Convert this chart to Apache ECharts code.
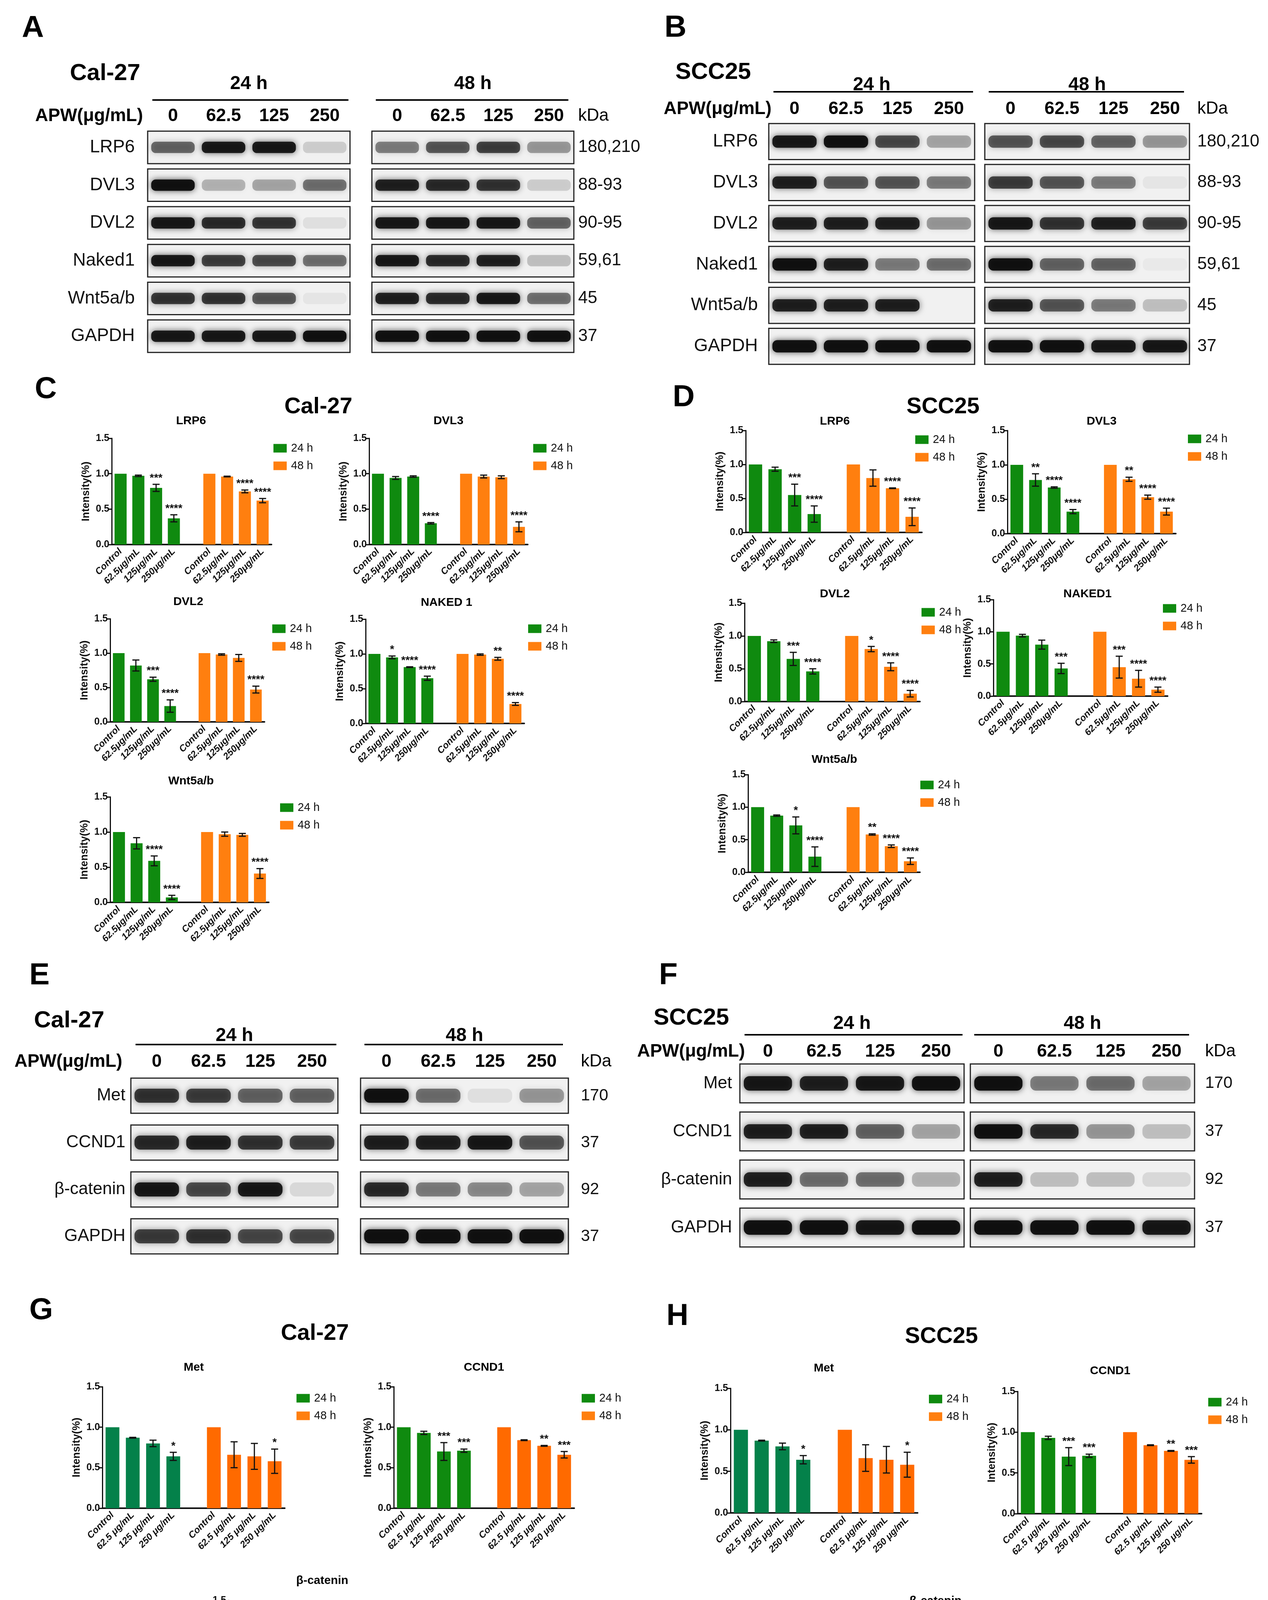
<!DOCTYPE html>
<html>
<head>
<meta charset="utf-8">
<script src="https://cdn.jsdelivr.net/npm/echarts@6/dist/echarts.min.js"></script>
<style>
html,body{margin:0;padding:0;background:#fff;}
#main{width:3246px;height:4637px;}
</style>
</head>
<body>
<div id="main"></div>
<script>
// ---------- blot data (band darkness 0..1, lanes: 24h 0/62.5/125/250, 48h 0/62.5/125/250) ----------
var blotA_rows = ['LRP6','DVL3','DVL2','Naked1','Wnt5a/b','GAPDH'];
var blotA_kda = ['180,210','88-93','90-95','59,61','45','37'];
var blotA_bands = [
    [0.55,0.9,0.9,0.15, 0.45,0.6,0.7,0.35],
    [0.95,0.25,0.3,0.5, 0.85,0.8,0.75,0.15],
    [0.9,0.8,0.75,0.08, 0.9,0.9,0.9,0.55],
    [0.9,0.7,0.65,0.5, 0.9,0.8,0.85,0.2],
    [0.75,0.75,0.6,0.05, 0.85,0.8,0.9,0.5],
    [0.9,0.9,0.9,0.95, 0.95,0.95,0.95,0.95]
];
var blotB_rows = ['LRP6','DVL3','DVL2','Naked1','Wnt5a/b','GAPDH'];
var blotB_kda = ['180,210','88-93','90-95','59,61','45','37'];
var blotB_bands = [
    [0.9,0.95,0.65,0.3, 0.6,0.65,0.55,0.35],
    [0.85,0.6,0.6,0.45, 0.7,0.6,0.45,0.05],
    [0.85,0.85,0.85,0.35, 0.9,0.75,0.85,0.7],
    [0.95,0.85,0.45,0.5, 0.95,0.55,0.55,0.03],
    [0.85,0.85,0.85,0.0, 0.85,0.6,0.45,0.2],
    [0.95,0.95,0.95,0.95, 0.95,0.95,0.9,0.9]
];
var blotE_rows = ['Met','CCND1','β-catenin','GAPDH'];
var blotE_kda = ['170','37','92','37'];
var blotE_bands = [
    [0.75,0.7,0.55,0.55, 0.95,0.5,0.08,0.35],
    [0.8,0.85,0.75,0.7, 0.85,0.85,0.9,0.6],
    [0.9,0.65,0.9,0.1, 0.8,0.45,0.4,0.3],
    [0.7,0.75,0.65,0.65, 0.95,0.95,0.95,0.95]
];
var blotF_rows = ['Met','CCND1','β-catenin','GAPDH'];
var blotF_kda = ['170','37','92','37'];
var blotF_bands = [
    [0.9,0.85,0.9,0.95, 0.95,0.45,0.5,0.3],
    [0.85,0.85,0.55,0.3, 0.95,0.8,0.35,0.2],
    [0.85,0.5,0.5,0.25, 0.85,0.2,0.2,0.1],
    [0.95,0.95,0.9,0.95, 0.95,0.95,0.95,0.9]
];
var lane_doses = ['0','62.5','125','250'];

// ---------- bar chart data ----------
var x_labels = ['Control','62.5μg/mL','125μg/mL','250μg/mL'];
var x_labels_sp = ['Control','62.5 μg/mL','125 μg/mL','250 μg/mL'];
var x_labels_h = ['Control','62.5μg','125μg','250μg'];

var c_lrp6_24 = [1,0.97,0.8,0.37], c_lrp6_24_err = [0,0.01,0.05,0.05], c_lrp6_24_sig = ['','','***','****'];
var c_lrp6_48 = [1,0.96,0.75,0.62], c_lrp6_48_err = [0,0.005,0.02,0.03], c_lrp6_48_sig = ['','','****','****'];
var c_dvl3_24 = [1,0.94,0.96,0.3], c_dvl3_24_err = [0,0.02,0.01,0.01], c_dvl3_24_sig = ['','','','****'];
var c_dvl3_48 = [1,0.96,0.95,0.25], c_dvl3_48_err = [0,0.02,0.02,0.07], c_dvl3_48_sig = ['','','','****'];
var c_dvl2_24 = [1,0.82,0.62,0.23], c_dvl2_24_err = [0,0.08,0.03,0.09], c_dvl2_24_sig = ['','','***','****'];
var c_dvl2_48 = [1,0.98,0.93,0.47], c_dvl2_48_err = [0,0.01,0.05,0.05], c_dvl2_48_sig = ['','','','****'];
var c_nkd_24 = [1,0.95,0.81,0.65], c_nkd_24_err = [0,0.02,0.005,0.03], c_nkd_24_sig = ['','*','****','****'];
var c_nkd_48 = [1,0.99,0.93,0.28], c_nkd_48_err = [0,0.01,0.02,0.02], c_nkd_48_sig = ['','','**','****'];
var c_wnt_24 = [1,0.84,0.59,0.07], c_wnt_24_err = [0,0.08,0.07,0.03], c_wnt_24_sig = ['','','****','****'];
var c_wnt_48 = [1,0.97,0.96,0.41], c_wnt_48_err = [0,0.03,0.02,0.07], c_wnt_48_sig = ['','','','****'];

var d_lrp6_24 = [1,0.93,0.55,0.27], d_lrp6_24_err = [0,0.03,0.16,0.12], d_lrp6_24_sig = ['','','***','****'];
var d_lrp6_48 = [1,0.8,0.65,0.23], d_lrp6_48_err = [0,0.12,0.005,0.13], d_lrp6_48_sig = ['','','****','****'];
var d_dvl3_24 = [1,0.78,0.67,0.32], d_dvl3_24_err = [0,0.09,0.01,0.03], d_dvl3_24_sig = ['','**','****','****'];
var d_dvl3_48 = [1,0.79,0.53,0.32], d_dvl3_48_err = [0,0.03,0.03,0.05], d_dvl3_48_sig = ['','**','****','****'];
var d_dvl2_24 = [1,0.92,0.65,0.46], d_dvl2_24_err = [0,0.02,0.1,0.04], d_dvl2_24_sig = ['','','***','****'];
var d_dvl2_48 = [1,0.8,0.53,0.12], d_dvl2_48_err = [0,0.04,0.06,0.05], d_dvl2_48_sig = ['','*','****','****'];
var d_nkd_24 = [1,0.94,0.8,0.43], d_nkd_24_err = [0,0.02,0.07,0.08], d_nkd_24_sig = ['','','','***'];
var d_nkd_48 = [1,0.45,0.27,0.1], d_nkd_48_err = [0,0.17,0.13,0.04], d_nkd_48_sig = ['','***','****','****'];
var d_wnt_24 = [1,0.87,0.72,0.24], d_wnt_24_err = [0,0.01,0.13,0.15], d_wnt_24_sig = ['','','*','****'];
var d_wnt_48 = [1,0.58,0.4,0.17], d_wnt_48_err = [0,0.01,0.02,0.05], d_wnt_48_sig = ['','**','****','****'];

var g_met_24 = [1,0.87,0.8,0.64], g_met_24_err = [0,0.005,0.04,0.05], g_met_24_sig = ['','','','*'];
var g_met_48 = [1,0.66,0.64,0.58], g_met_48_err = [0,0.16,0.16,0.15], g_met_48_sig = ['','','','*'];
var g_ccnd1_24 = [1,0.93,0.7,0.71], g_ccnd1_24_err = [0,0.02,0.11,0.02], g_ccnd1_24_sig = ['','','***','***'];
var g_ccnd1_48 = [1,0.84,0.77,0.66], g_ccnd1_48_err = [0,0.005,0.005,0.04], g_ccnd1_48_sig = ['','','**','***'];
var g_bcat_24 = [1,0.56,0.9,0.14], g_bcat_24_err = [0,0.1,0.04,0.02], g_bcat_24_sig = ['','****','','****'];
var g_bcat_48 = [1,0.45,0.32,0.27], g_bcat_48_err = [0,0.06,0.05,0.05], g_bcat_48_sig = ['','****','****','****'];

var h_met_24 = [1,0.87,0.8,0.64], h_met_24_err = [0,0.005,0.04,0.05], h_met_24_sig = ['','','','*'];
var h_met_48 = [1,0.66,0.64,0.58], h_met_48_err = [0,0.16,0.16,0.15], h_met_48_sig = ['','','','*'];
var h_ccnd1_24 = [1,0.93,0.7,0.71], h_ccnd1_24_err = [0,0.02,0.11,0.02], h_ccnd1_24_sig = ['','','***','***'];
var h_ccnd1_48 = [1,0.84,0.77,0.66], h_ccnd1_48_err = [0,0.005,0.005,0.04], h_ccnd1_48_sig = ['','','**','***'];
var h_bcat_24 = [1,0.56,0.9,0.14], h_bcat_24_err = [0,0.1,0.04,0.02], h_bcat_24_sig = ['','****','ns','****'];
var h_bcat_48 = [1,0.32,0.45,0.27], h_bcat_48_err = [0,0.05,0.07,0.06], h_bcat_48_sig = ['','****','****','****'];

var y_ticks = [0, 0.5, 1.0, 1.5];

var FONT = 'Liberation Sans, Arial, sans-serif';
var GREEN = '#0f8a0f', ORANGE = '#ff7f0f', GREEN2 = '#04814a', ORANGE2 = '#ff6a00';

var chart = echarts.init(document.getElementById('main'), null, {renderer: 'canvas'});
var grids = [], xAxes = [], yAxes = [], series = [], legends = [], graphics = [];

function txt(x, y, s, size, weight, align, extra) {
    var o = {type: 'text', left: x, top: y, style: {text: s, x: 0, y: 0, fill: '#000',
        font: (weight || 'normal') + ' ' + size + 'px ' + FONT, textAlign: align || 'left', textVerticalAlign: 'middle'}};
    if (extra) for (var k in extra) o.style[k] = extra[k];
    return o;
}
function ctxt(x, y, s, size, weight) {
    return {type: 'text', x: x, y: y, style: {text: s, fill: '#000', font: (weight || 'normal') + ' ' + size + 'px ' + FONT,
        textAlign: 'center', textVerticalAlign: 'middle'}};
}
function ltxt(x, y, s, size, weight, align) {
    return {type: 'text', x: x, y: y, style: {text: s, fill: '#000', font: (weight || 'normal') + ' ' + size + 'px ' + FONT,
        textAlign: align || 'left', textVerticalAlign: 'middle'}};
}

// ---------- blots ----------
function addBlot(b) {
    var gi = grids.length;
    var laneW = b.leftW / 4;
    grids.push({left: b.left, top: b.top, width: b.width, height: b.height});
    xAxes.push({gridIndex: gi, type: 'value', min: 0, max: b.width, show: false});
    yAxes.push({gridIndex: gi, type: 'category', inverse: true, data: b.rows,
        axisLine: {show: false}, axisTick: {show: false}, splitLine: {show: false},
        axisLabel: {fontSize: b.fs, fontFamily: FONT, color: '#111', margin: b.lm}});
    yAxes.push({gridIndex: gi, type: 'category', inverse: true, position: 'right', data: b.kda,
        axisLine: {show: false}, axisTick: {show: false}, splitLine: {show: false},
        axisLabel: {fontSize: b.fs - 2, fontFamily: FONT, color: '#111', margin: b.km}});
    var yi = yAxes.length - 2;
    var frames = [], bands = [];
    b.rows.forEach(function (r, ri) {
        frames.push([0, ri]); frames.push([1, ri]);
        b.bands[ri].forEach(function (v, li) { bands.push([li, ri, v]); });
    });
    function sideX(side) { return side === 0 ? 0 : b.leftW + b.gap; }
    series.push({type: 'custom', xAxisIndex: xAxes.length - 1, yAxisIndex: yi, data: frames, silent: true,
        renderItem: function (params, api) {
            var side = api.value(0), row = api.value(1);
            var p = api.coord([sideX(side), row]);
            var h = api.size([0, 1])[1] * b.fh;
            var w = side === 0 ? b.leftW : b.width - b.leftW - b.gap;
            return {type: 'rect', shape: {x: p[0], y: p[1] - h / 2, width: w, height: h},
                style: {fill: '#f1f1f1', stroke: '#222', lineWidth: 3}};
        }});
    series.push({type: 'custom', xAxisIndex: xAxes.length - 1, yAxisIndex: yi, data: bands, silent: true,
        renderItem: function (params, api) {
            var lane = api.value(0), row = api.value(1), v = api.value(2);
            var side = lane < 4 ? 0 : 1;
            var cx = sideX(side) + ((lane % 4) + 0.5) * laneW;
            var p = api.coord([cx, row]);
            var h = api.size([0, 1])[1] * 0.3;
            var w = laneW * 0.86;
            var a = Math.max(0, Math.min(1, v));
            return {type: 'rect', shape: {x: p[0] - w / 2, y: p[1] - h / 2, width: w, height: h, r: h / 2.5},
                style: {fill: 'rgba(12,12,12,' + a + ')', shadowBlur: 16, shadowColor: 'rgba(12,12,12,' + (a * 0.8) + ')'}};
        }});
    // headers
    graphics.push(ltxt(b.letter[1], b.letter[2], b.letter[0], 78, 'bold', 'left'));
    graphics.push(ltxt(b.cell[1], b.cell[2], b.cell[0], 60, 'bold', 'left'));
    graphics.push(ctxt(b.left + b.leftW / 2, b.hY, '24 h', 48, 'bold'));
    graphics.push(ctxt(b.left + b.leftW + b.gap + (b.width - b.leftW - b.gap) / 2, b.hY, '48 h', 48, 'bold'));
    graphics.push({type: 'line', shape: {x1: b.left + 12, y1: b.uY, x2: b.left + b.leftW - 4, y2: b.uY}, style: {stroke: '#000', lineWidth: 4}});
    graphics.push({type: 'line', shape: {x1: b.left + b.leftW + b.gap + 10, y1: b.uY, x2: b.left + b.width - 14, y2: b.uY}, style: {stroke: '#000', lineWidth: 4}});
    graphics.push(ltxt(b.apwX, b.aY, 'APW(μg/mL)', 46, 'bold', 'left'));
    for (var i = 0; i < 8; i++) {
        var side = i < 4 ? 0 : 1;
        var cx = b.left + sideX(side) + ((i % 4) + 0.5) * laneW;
        graphics.push(ctxt(cx, b.aY, lane_doses[i % 4], 46, 'bold'));
    }
    graphics.push(ltxt(b.left + b.width + b.km, b.aY, 'kDa', 44, 'normal', 'left'));
}

addBlot({left: 378, top: 329, width: 1091, height: 580, leftW: 518, gap: 56, rows: blotA_rows, kda: blotA_kda, bands: blotA_bands,
    fs: 46, lm: 33, km: 11, fh: 0.86, letter: ['A', 56, 73], cell: ['Cal-27', 179, 188], hY: 215, uY: 256, aY: 297, apwX: 90});
addBlot({left: 1968, top: 310, width: 1077, height: 629, leftW: 527, gap: 26, rows: blotB_rows, kda: blotB_kda, bands: blotB_bands,
    fs: 46, lm: 28, km: 20, fh: 0.88, letter: ['B', 1701, 72], cell: ['SCC25', 1729, 185], hY: 218, uY: 235, aY: 279, apwX: 1699});
addBlot({left: 335, top: 2745, width: 1120, height: 480, leftW: 530, gap: 58, rows: blotE_rows, kda: blotE_kda, bands: blotE_bands,
    fs: 44, lm: 14, km: 32, fh: 0.75, letter: ['E', 75, 2498], cell: ['Cal-27', 87, 2613], hY: 2652, uY: 2674, aY: 2718, apwX: 37});
addBlot({left: 1894, top: 2712, width: 1164, height: 492, leftW: 574, gap: 16, rows: blotF_rows, kda: blotF_kda, bands: blotF_bands,
    fs: 44, lm: 20, km: 27, fh: 0.81, letter: ['F', 1687, 2498], cell: ['SCC25', 1673, 2606], hY: 2621, uY: 2649, aY: 2692, apwX: 1631});

// ---------- bar charts ----------
function addBar(c) {
    var gi = grids.length;
    grids.push({left: c.left, top: c.top, width: c.width, height: c.height});
    var cats = c.labels.concat(['']).concat(c.labels);
    xAxes.push({gridIndex: gi, type: 'category', data: cats,
        axisLine: {lineStyle: {color: '#111', width: 4}},
        axisTick: {alignWithLabel: true, length: 12, lineStyle: {width: 3, color: '#111'}, interval: function (i) { return i !== 4; }},
        axisLabel: {interval: 0, rotate: 45, fontSize: c.xfs || 24, fontWeight: 'bold', fontStyle: 'italic', fontFamily: FONT, color: '#111', margin: 14}});
    yAxes.push({gridIndex: gi, type: 'value', min: 0, max: 1.5, interval: 0.5,
        name: c.yname || 'Intensity(%)', nameLocation: 'middle', nameGap: 52,
        nameTextStyle: {fontSize: 27, fontWeight: 'bold', fontFamily: FONT, color: '#111'},
        axisLine: {show: true, lineStyle: {color: '#111', width: 3}},
        axisTick: {show: true, length: 8, lineStyle: {width: 3, color: '#111'}},
        splitLine: {show: false},
        axisLabel: {fontSize: 25, fontWeight: 'bold', fontFamily: FONT, color: '#111', margin: 6,
            formatter: function (v) { return v.toFixed(1); }}});
    var xi = xAxes.length - 1, yi = yAxes.length - 1;
    var g = c.green || GREEN, o = c.orange || ORANGE;
    var names = c.names || ['24 h', '48 h'];
    var d24 = c.v24.concat(['-', '-', '-', '-', '-']);
    var d48 = ['-', '-', '-', '-', '-'].concat(c.v48);
    series.push({type: 'bar', name: names[0], xAxisIndex: xi, yAxisIndex: yi, data: d24, barWidth: '68%', barGap: '-100%',
        itemStyle: {color: g}, silent: true});
    series.push({type: 'bar', name: names[1], xAxisIndex: xi, yAxisIndex: yi, data: d48, barWidth: '68%', barGap: '-100%',
        itemStyle: {color: o}, silent: true});
    var errs = [];
    for (var i = 0; i < 4; i++) {
        errs.push([i, c.v24[i], c.e24[i], c.s24[i]]);
        errs.push([i + 5, c.v48[i], c.e48[i], c.s48[i]]);
    }
    series.push({type: 'custom', xAxisIndex: xi, yAxisIndex: yi, data: errs, silent: true, z: 5,
        renderItem: function (params, api) {
            var x = api.value(0), v = api.value(1), e = api.value(2);
            var sig = c[x < 4 ? 's24' : 's48'][x < 4 ? x : x - 5];
            var top = api.coord([x, v + e]), bot = api.coord([x, v - e]);
            var kids = [];
            if (e > 0) {
                var cw = 9;
                kids.push({type: 'line', shape: {x1: top[0], y1: top[1], x2: bot[0], y2: bot[1]}, style: {stroke: '#111', lineWidth: 3}});
                kids.push({type: 'line', shape: {x1: top[0] - cw, y1: top[1], x2: top[0] + cw, y2: top[1]}, style: {stroke: '#111', lineWidth: 3}});
                kids.push({type: 'line', shape: {x1: bot[0] - cw, y1: bot[1], x2: bot[0] + cw, y2: bot[1]}, style: {stroke: '#111', lineWidth: 3}});
            }
            if (sig) {
                var ns = sig === 'ns';
                kids.push({type: 'text', x: top[0], y: top[1] - (ns ? 8 : 2),
                    style: {text: sig, fill: '#111', font: (ns ? 'normal 28px ' : 'bold 28px ') + FONT,
                        textAlign: 'center', textVerticalAlign: 'bottom'}});
            }
            return {type: 'group', children: kids};
        }});
    legends.push({orient: 'vertical', left: c.lx, top: c.ly, itemWidth: 34, itemHeight: 22, itemGap: 16,
        icon: 'rect', selectedMode: false, data: names,
        textStyle: {fontSize: 29, fontFamily: FONT, color: '#111', padding: [0, 0, 0, 6]}});
    graphics.push(ctxt(c.tx, c.ty, c.title, 30, 'bold'));
}

addBar({title: 'LRP6', left: 286, top: 1122, width: 409, height: 272, lx: 695, ly: 1128, tx: 489, ty: 1078,
    labels: x_labels, v24: c_lrp6_24, e24: c_lrp6_24_err, s24: c_lrp6_24_sig, v48: c_lrp6_48, e48: c_lrp6_48_err, s48: c_lrp6_48_sig});
addBar({title: 'DVL3', left: 945, top: 1122, width: 406, height: 272, lx: 1360, ly: 1128, tx: 1148, ty: 1078,
    labels: x_labels, v24: c_dvl3_24, e24: c_dvl3_24_err, s24: c_dvl3_24_sig, v48: c_dvl3_48, e48: c_dvl3_48_err, s48: c_dvl3_48_sig});
addBar({title: 'DVL2', left: 282, top: 1584, width: 395, height: 264, lx: 692, ly: 1590, tx: 482, ty: 1541,
    labels: x_labels, v24: c_dvl2_24, e24: c_dvl2_24_err, s24: c_dvl2_24_sig, v48: c_dvl2_48, e48: c_dvl2_48_err, s48: c_dvl2_48_sig});
addBar({title: 'NAKED 1', left: 936, top: 1585, width: 406, height: 267, lx: 1347, ly: 1590, tx: 1143, ty: 1543,
    labels: x_labels, v24: c_nkd_24, e24: c_nkd_24_err, s24: c_nkd_24_sig, v48: c_nkd_48, e48: c_nkd_48_err, s48: c_nkd_48_sig});
addBar({title: 'Wnt5a/b', left: 282, top: 2040, width: 406, height: 270, lx: 712, ly: 2048, tx: 489, ty: 2000,
    labels: x_labels, v24: c_wnt_24, e24: c_wnt_24_err, s24: c_wnt_24_sig, v48: c_wnt_48, e48: c_wnt_48_err, s48: c_wnt_48_sig});

addBar({title: 'LRP6', left: 1909, top: 1102, width: 451, height: 261, lx: 2338, ly: 1106, tx: 2137, ty: 1079,
    labels: x_labels, v24: d_lrp6_24, e24: d_lrp6_24_err, s24: d_lrp6_24_sig, v48: d_lrp6_48, e48: d_lrp6_48_err, s48: d_lrp6_48_sig});
addBar({title: 'DVL3', left: 2579, top: 1102, width: 431, height: 264, lx: 3036, ly: 1104, tx: 2820, ty: 1079,
    labels: x_labels, v24: d_dvl3_24, e24: d_dvl3_24_err, s24: d_dvl3_24_sig, v48: d_dvl3_48, e48: d_dvl3_48_err, s48: d_dvl3_48_sig});
addBar({title: 'DVL2', left: 1906, top: 1544, width: 449, height: 252, lx: 2354, ly: 1548, tx: 2137, ty: 1521,
    labels: x_labels, v24: d_dvl2_24, e24: d_dvl2_24_err, s24: d_dvl2_24_sig, v48: d_dvl2_48, e48: d_dvl2_48_err, s48: d_dvl2_48_sig});
addBar({title: 'NAKED1', left: 2543, top: 1535, width: 446, height: 247, lx: 2972, ly: 1538, tx: 2784, ty: 1521,
    labels: x_labels, v24: d_nkd_24, e24: d_nkd_24_err, s24: d_nkd_24_sig, v48: d_nkd_48, e48: d_nkd_48_err, s48: d_nkd_48_sig});
addBar({title: 'Wnt5a/b', left: 1915, top: 1983, width: 440, height: 250, lx: 2351, ly: 1990, tx: 2136, ty: 1945,
    labels: x_labels, v24: d_wnt_24, e24: d_wnt_24_err, s24: d_wnt_24_sig, v48: d_wnt_48, e48: d_wnt_48_err, s48: d_wnt_48_sig});

addBar({title: 'Met', left: 262, top: 3550, width: 467, height: 311, lx: 754, ly: 3560, tx: 496, ty: 3501, green: GREEN2, orange: ORANGE2,
    labels: x_labels_sp, v24: g_met_24, e24: g_met_24_err, s24: g_met_24_sig, v48: g_met_48, e48: g_met_48_err, s48: g_met_48_sig});
addBar({title: 'CCND1', left: 1008, top: 3550, width: 462, height: 311, lx: 1484, ly: 3560, tx: 1239, ty: 3501, orange: ORANGE2,
    labels: x_labels_sp, v24: g_ccnd1_24, e24: g_ccnd1_24_err, s24: g_ccnd1_24_sig, v48: g_ccnd1_48, e48: g_ccnd1_48_err, s48: g_ccnd1_48_sig});
addBar({title: 'β-catenin', left: 585, top: 4097, width: 482, height: 321, lx: 1039, ly: 4105, tx: 825, ty: 4047, orange: ORANGE2,
    labels: x_labels, v24: g_bcat_24, e24: g_bcat_24_err, s24: g_bcat_24_sig, v48: g_bcat_48, e48: g_bcat_48_err, s48: g_bcat_48_sig});

addBar({title: 'Met', left: 1870, top: 3554, width: 479, height: 319, lx: 2373, ly: 3562, tx: 2109, ty: 3503, green: GREEN2, orange: ORANGE2,
    labels: x_labels_sp, v24: h_met_24, e24: h_met_24_err, s24: h_met_24_sig, v48: h_met_48, e48: h_met_48_err, s48: h_met_48_sig});
addBar({title: 'CCND1', left: 2605, top: 3562, width: 471, height: 313, lx: 3088, ly: 3570, tx: 2842, ty: 3510, orange: ORANGE2,
    labels: x_labels_sp, v24: h_ccnd1_24, e24: h_ccnd1_24_err, s24: h_ccnd1_24_sig, v48: h_ccnd1_48, e48: h_ccnd1_48_err, s48: h_ccnd1_48_sig});
addBar({title: 'β-catenin', left: 2156, top: 4155, width: 476, height: 342, lx: 2702, ly: 4163, tx: 2395, ty: 4099, orange: ORANGE2,
    names: ['24H', '48h'], yname: 'Intensity', xfs: 27,
    labels: x_labels_h, v24: h_bcat_24, e24: h_bcat_24_err, s24: h_bcat_24_sig, v48: h_bcat_48, e48: h_bcat_48_err, s48: h_bcat_48_sig});

// section headers
graphics.push(ltxt(89, 997, 'C', 78, 'bold', 'left'));
graphics.push(ctxt(815, 1042, 'Cal-27', 58, 'bold'));
graphics.push(ltxt(1722, 1018, 'D', 78, 'bold', 'left'));
graphics.push(ctxt(2414, 1042, 'SCC25', 58, 'bold'));
graphics.push(ltxt(75, 3355, 'G', 78, 'bold', 'left'));
graphics.push(ctxt(806, 3414, 'Cal-27', 58, 'bold'));
graphics.push(ltxt(1706, 3370, 'H', 78, 'bold', 'left'));
graphics.push(ctxt(2410, 3422, 'SCC25', 58, 'bold'));

chart.setOption({
    backgroundColor: '#fff',
    animation: false,
    textStyle: {fontFamily: FONT},
    grid: grids,
    xAxis: xAxes,
    yAxis: yAxes,
    legend: legends,
    series: series,
    graphic: graphics
});
</script>
</body>
</html>
